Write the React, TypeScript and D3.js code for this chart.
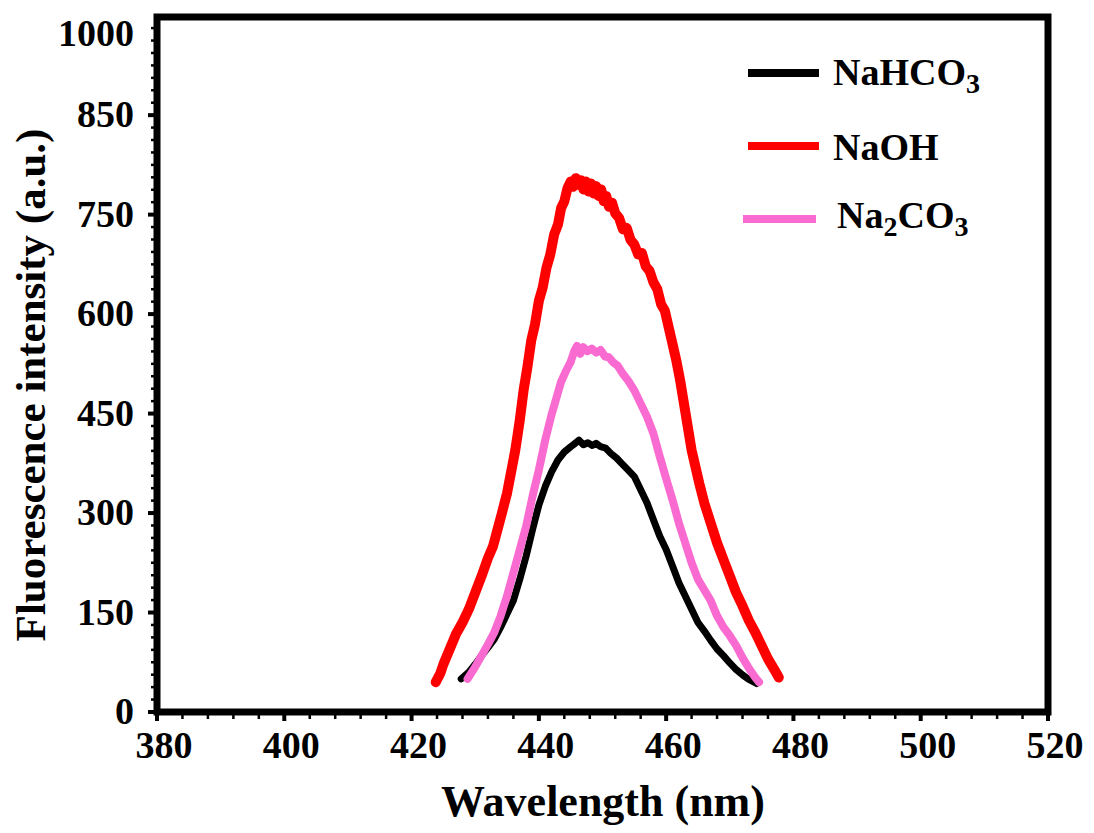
import React from "react";
import * as d3 from "d3";

type Pt = [number, number];

const nahco3: Pt[] = [[427.8,50],[429,60],[430,72],[431,85],[432,97],[433,110],[434,128],[435,148],[436,168],[437,200],[438,235],[439,275],[440,312],[441,340],[442,362],[443,380],[444,392],[445,400],[445.7,405],[446.3,410],[447,403],[447.7,406],[448.4,402],[449,405],[449.7,400],[450.5,398],[451.3,390],[452.2,383],[453,375],[454,365],[455,355],[456,335],[457,315],[458,290],[459,265],[460,245],[461,220],[462,195],[463,175],[464,155],[465,135],[466,122],[467,108],[468,95],[469,85],[470,74],[471,64],[472,56],[473,49],[474.2,43]];

const naoh: Pt[] = [[423.8,45],[424.5,58],[425,72],[426,95],[427,118],[428,135],[429,155],[430,180],[431,205],[432,232],[432.8,250],[433.5,275],[434.2,300],[435,330],[435.7,365],[436.3,395],[437,440],[437.6,485],[438.2,520],[438.8,560],[439.4,585],[440,620],[440.6,640],[441.2,670],[441.8,690],[442.4,720],[443,735],[443.5,760],[444,770],[444.5,790],[445,800],[445.4,792],[445.8,805],[446.2,795],[446.6,802],[447,788],[447.4,800],[447.8,785],[448.2,797],[448.6,782],[449,793],[449.4,778],[449.8,788],[450.2,770],[450.6,778],[451,762],[451.5,768],[452,752],[452.6,745],[453.2,728],[453.8,730],[454.4,712],[455,705],[455.6,690],[456.2,692],[456.8,672],[457.4,665],[458,648],[458.6,638],[459.2,615],[459.8,605],[460.4,580],[461,555],[461.6,530],[462.2,500],[462.8,465],[463.4,430],[464,395],[464.6,370],[465.2,345],[466,315],[467,285],[468,255],[469,230],[470,205],[471,180],[472,160],[473,138],[474,120],[475,100],[476,80],[477,64],[477.7,52]];

const na2co3: Pt[] = [[428.8,50],[430,68],[431,85],[432,102],[433,120],[434,145],[435,175],[436,210],[437,245],[438,280],[439,325],[440,365],[441,410],[441.9,445],[442.8,475],[443.5,498],[444.3,515],[445,528],[445.6,545],[446,552],[446.5,540],[447,550],[447.6,544],[448.3,548],[449,542],[449.7,546],[450.4,536],[451,535],[451.7,527],[452.4,522],[453.2,510],[454,500],[455,485],[456,465],[457,445],[458,420],[459,385],[460,352],[461,320],[462,285],[463,255],[464,225],[465,200],[466,184],[467,168],[468,145],[469,128],[470,115],[471,100],[472,82],[473,66],[474,52],[474.6,45]];

const seriesNames = ["NaHCO3", "NaOH", "Na2CO3"];
const seriesColors = ["#000000", "#ff0000", "#f96bd0"];

const xTickValues = [380, 400, 420, 440, 460, 480, 500, 520];
const yTickValues = [0, 150, 300, 450, 600, 750, 900, 1022];
const yTickLabels = ["0", "150", "300", "450", "600", "750", "850", "1000"];

const W = 1094, H = 833;
const L = 157, R = 1048, T = 17, B = 712;
const FONT = "'Liberation Serif', 'Times New Roman', serif";

export default function App() {
  const x = d3.scaleLinear().domain([380, 520]).range([L, R]);
  const y = d3.scaleLinear().domain([0, 1048]).range([B, T]);
  const line = d3.line<Pt>().x(d => x(d[0])).y(d => y(d[1]));

  const xMinor = d3.range(380, 520.01, 4);
  const yMinor = d3.range(0, 1040, 18.75);

  const curves: { data: Pt[]; color: string; w: number }[] = [
    { data: nahco3, color: seriesColors[0], w: 7 },
    { data: naoh, color: seriesColors[1], w: 10 },
    { data: na2co3, color: seriesColors[2], w: 8 },
  ];

  const legendY = [73, 146, 219];
  const legendX = [[748, 819], [748, 819], [743, 816]];

  return (
    <svg width={W} height={H} style={{ position: "absolute", left: 0, top: 0, background: "#fff" }}>
      <rect x={0} y={0} width={W} height={H} fill="#fff" />
      {xMinor.map((v, i) => (
        <line key={"xm" + i} x1={x(v)} x2={x(v)} y1={B} y2={B + 7} stroke="#000" strokeWidth={2.5} />
      ))}
      {yMinor.map((v, i) => (
        <line key={"ym" + i} x1={L - 6} x2={L} y1={y(v)} y2={y(v)} stroke="#000" strokeWidth={2.5} />
      ))}
      {xTickValues.map((v, i) => (
        <line key={"xM" + i} x1={x(v)} x2={x(v)} y1={B} y2={B + 9} stroke="#000" strokeWidth={4} />
      ))}
      {yTickValues.slice(0, 7).map((v, i) => (
        <line key={"yM" + i} x1={L - 9} x2={L} y1={y(v)} y2={y(v)} stroke="#000" strokeWidth={4} />
      ))}
      <rect x={L} y={T} width={R - L} height={B - T} fill="none" stroke="#000" strokeWidth={7} />
      {curves.map((c, i) => (
        <path key={"c" + i} d={line(c.data) || ""} fill="none" stroke={c.color} strokeWidth={c.w}
          strokeLinejoin="round" strokeLinecap="round" />
      ))}
      <g fontFamily={FONT} fontWeight="bold" fontSize={38} fill="#000">
        {xTickValues.map((v, i) => (
          <text key={"xl" + i} x={x(v) + 7} y={758} textAnchor="middle">{v}</text>
        ))}
        {yTickValues.map((v, i) => (
          <text key={"yl" + i} x={134} y={y(v) + 12} textAnchor="end">{yTickLabels[i]}</text>
        ))}
      </g>
      <text x={603} y={816} textAnchor="middle" fontFamily={FONT} fontWeight="bold" fontSize={44}>Wavelength (nm)</text>
      <text transform={`translate(45,385) rotate(-90)`} textAnchor="middle" fontFamily={FONT} fontWeight="bold" fontSize={43}>Fluorescence intensity (a.u.)</text>
      {seriesNames.map((n, i) => (
        <line key={"ll" + i} x1={legendX[i][0]} x2={legendX[i][1]} y1={legendY[i]} y2={legendY[i]}
          stroke={seriesColors[i]} strokeWidth={8} />
      ))}
      <g fontFamily={FONT} fontWeight="bold" fontSize={38} fill="#000">
        <text x={833} y={85}>NaHCO<tspan fontSize={28} dy={8}>3</tspan></text>
        <text x={833} y={160}>NaOH</text>
        <text x={837} y={228}>Na<tspan fontSize={28} dy={8}>2</tspan><tspan dy={-8}>CO</tspan><tspan fontSize={28} dy={8}>3</tspan></text>
      </g>
    </svg>
  );
}
